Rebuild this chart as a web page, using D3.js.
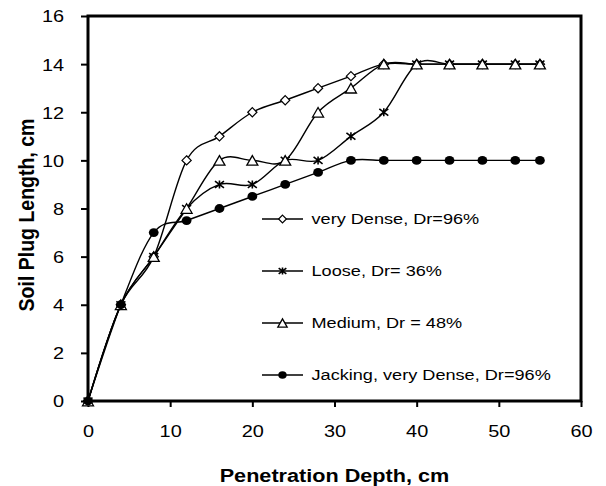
<!DOCTYPE html>
<html>
<head>
<meta charset="utf-8">
<script src="https://cdn.jsdelivr.net/npm/d3@7"></script>
<style>
  html, body { margin: 0; padding: 0; background: #fff; }
  svg { display: block; }
  text { font-family: "Liberation Sans", Arial, sans-serif; fill: #000; }
</style>
</head>
<body>
<svg id="chart" width="606" height="486"></svg>
<script>
// ---------- data ----------
const depths        = [0, 4, 8, 12, 16, 20, 24, 28, 32, 36, 40, 44, 48, 52, 55];
const veryDense     = [0, 4, 6, 10, 11, 12, 12.5, 13, 13.5, 14, 14, 14, 14, 14, 14];
const loose         = [0, 4, 6, 8, 9, 9, 10, 10, 11, 12, 14, 14, 14, 14, 14];
const medium        = [0, 4, 6, 8, 10, 10, 10, 12, 13, 14, 14, 14, 14, 14, 14];
const jacking       = [0, 4, 7, 7.5, 8, 8.5, 9, 9.5, 10, 10, 10, 10, 10, 10, 10];
const seriesNames   = ["very Dense, Dr=96%", "Loose, Dr= 36%", "Medium, Dr = 48%", "Jacking, very Dense, Dr=96%"];
const seriesMarkers = ["diamond", "asterisk", "triangle", "circle"];
const xTickValues   = [0, 10, 20, 30, 40, 50, 60];
const yTickValues   = [0, 2, 4, 6, 8, 10, 12, 14, 16];
const xTitle = "Penetration Depth, cm";
const yTitle = "Soil Plug Length, cm";

const allSeries = [veryDense, loose, medium, jacking].map((vals, i) => ({
  name: seriesNames[i], marker: seriesMarkers[i],
  points: depths.map((d, j) => ({ x: d, y: vals[j] }))
}));

// ---------- layout ----------
const SX = 1.17; // horizontal stretch of text in the reference
const svg = d3.select("#chart");
svg.append("rect").attr("width", 606).attr("height", 486).attr("fill", "#fff");

const x = d3.scaleLinear().domain([0, 60]).range([88, 581]);
const y = d3.scaleLinear().domain([0, 16]).range([401, 16]);

// axes
const gx = svg.append("g").attr("transform", `translate(0,${y(0)})`)
  .call(d3.axisBottom(x).tickValues(xTickValues).tickSize(6).tickPadding(9));
const gy = svg.append("g").attr("transform", `translate(${x(0)},0)`)
  .call(d3.axisLeft(y).tickValues(yTickValues).tickSize(7).tickPadding(0));
[gx, gy].forEach(g => {
  g.select(".domain").remove();
  g.selectAll(".tick line").attr("stroke", "#000").attr("stroke-width", 2);
});
gx.selectAll(".tick text")
  .attr("font-size", 17).attr("font-family", "Liberation Sans, Arial, sans-serif")
  .attr("fill", "#000")
  .attr("y", 0).attr("dy", null)
  .attr("dominant-baseline", "central")
  .attr("transform", `translate(0,30) scale(${SX},1)`);
gy.selectAll(".tick text")
  .attr("font-size", 17).attr("font-family", "Liberation Sans, Arial, sans-serif")
  .attr("fill", "#000")
  .attr("x", 0).attr("dy", null)
  .attr("dominant-baseline", "central")
  .attr("transform", `translate(-24,0) scale(${SX},1)`);

// frame
svg.append("rect")
  .attr("x", x(0)).attr("y", y(16))
  .attr("width", x(60) - x(0)).attr("height", y(0) - y(16))
  .attr("fill", "none").attr("stroke", "#000").attr("stroke-width", 3);

// titles
svg.append("text")
  .attr("transform", `translate(${(x(0) + x(60)) / 2},476) scale(${SX},1)`)
  .attr("text-anchor", "middle").attr("dominant-baseline", "central")
  .attr("font-size", 18.5).attr("font-weight", "bold")
  .text(xTitle);
svg.append("text")
  .attr("transform", `translate(34,215) scale(${SX},1) rotate(-90)`)
  .attr("text-anchor", "middle")
  .attr("font-size", 19.5).attr("font-weight", "bold")
  .text(yTitle);

// ---------- markers ----------
function drawMarker(g, type, cx, cy, scale) {
  const s = scale || 1;
  if (type === "diamond") {
    const r = 4.6 * s;
    g.append("path")
      .attr("d", `M${cx},${cy - r}L${cx + r},${cy}L${cx},${cy + r}L${cx - r},${cy}Z`)
      .attr("fill", "#fff").attr("stroke", "#000").attr("stroke-width", 1.2);
  } else if (type === "triangle") {
    const w = 5.5 * s, h = 4.8 * s;
    g.append("path")
      .attr("d", `M${cx},${cy - h}L${cx + w},${cy + h}L${cx - w},${cy + h}Z`)
      .attr("fill", "#fff").attr("stroke", "#000").attr("stroke-width", 1.3);
  } else if (type === "circle") {
    g.append("ellipse").attr("cx", cx).attr("cy", cy)
      .attr("rx", 4.9 * s).attr("ry", 4.4 * s).attr("fill", "#000");
  } else if (type === "asterisk") {
    const a = 4.5 * s, b = 3.4 * s;
    g.append("path")
      .attr("d", `M${cx - a},${cy - b}L${cx + a},${cy + b}M${cx - a},${cy + b}L${cx + a},${cy - b}M${cx},${cy - b - 0.6}L${cx},${cy + b + 0.6}`)
      .attr("fill", "none").attr("stroke", "#000").attr("stroke-width", 1.6);
  }
}

// ---------- series ----------
const line = d3.line().x(d => x(d.x)).y(d => y(d.y)).curve(d3.curveCatmullRom.alpha(0));
const plot = svg.append("g");
allSeries.forEach(s => {
  plot.append("path").datum(s.points)
    .attr("d", line).attr("fill", "none")
    .attr("stroke", "#000").attr("stroke-width", 1.4);
});
allSeries.forEach(s => {
  const g = plot.append("g");
  s.points.forEach(p => drawMarker(g, s.marker, x(p.x), y(p.y), 1));
});

// ---------- legend ----------
const legendRows = [219, 271, 323, 375];
const legend = svg.append("g");
allSeries.forEach((s, i) => {
  const ly = legendRows[i];
  legend.append("line").attr("x1", 262).attr("x2", 303).attr("y1", ly).attr("y2", ly)
    .attr("stroke", "#000").attr("stroke-width", 1.4);
  drawMarker(legend, s.marker, 282.5, ly, s.marker === "diamond" ? 0.85 : 0.85);
  legend.append("text")
    .attr("transform", `translate(311.5,${ly}) scale(${SX},1)`)
    .attr("dominant-baseline", "central")
    .attr("font-size", 15.5)
    .text(s.name);
});
</script>
</body>
</html>
